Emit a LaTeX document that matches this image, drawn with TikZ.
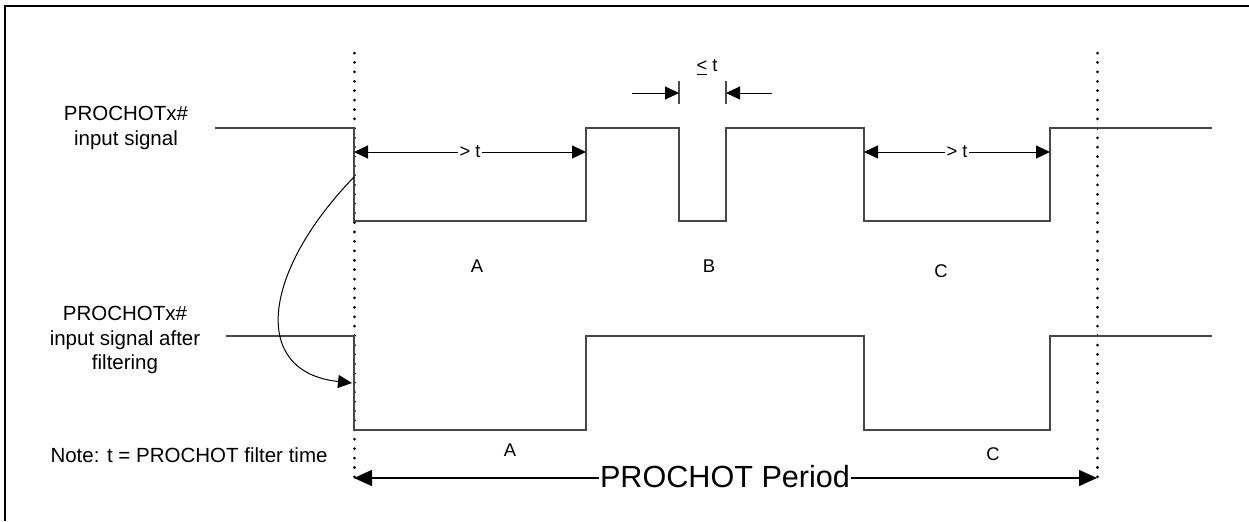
\documentclass[tikz,border=0pt]{standalone}
\usepackage{fontspec}
\setmainfont{Liberation Sans}
\usetikzlibrary{arrows.meta}
\begin{document}
\begin{tikzpicture}[x=0.5pt,y=-0.5pt,
  wave/.style={draw=black!72,line width=0.75pt},
  dotline/.style={line width=1.5pt,line cap=round,dash pattern=on 0.01pt off 4.7pt},
  dim/.style={line width=0.5pt,{Triangle[length=7pt,width=6.5pt]}-{Triangle[length=7pt,width=6.5pt]}},
  onetip/.style={line width=0.5pt,-{Triangle[length=7pt,width=6.5pt]}},
  lbl/.style={font=\fontsize{10.25}{12.2}\selectfont,align=center,inner sep=0pt},
  sml/.style={font=\fontsize{9.2}{11}\selectfont,inner sep=0pt},
  dimtxt/.style={font=\fontsize{9.2}{11}\selectfont,fill=white,inner sep=1pt},
  frame/.style={line width=1.25pt}]
\useasboundingbox (0,0) rectangle (1249,521);
% frame (left and top edges)
\draw[frame] (5,521) -- (5,6) -- (1249,6);
% dotted markers
\coordinate (dl1) at (354,53); \coordinate (dl2) at (354,478);
\coordinate (dr1) at (1097,53); \coordinate (dr2) at (1097,478);
\draw[dotline] (dl1) -- (dl2);
\draw[dotline] (dr1) -- (dr2);
% input signal
\draw[wave] (215,128) -- (354,128) -- (354,221) -- (586,221) -- (586,128) -- (679,128) -- (679,221)
  -- (726,221) -- (726,128) -- (864,128) -- (864,221) -- (1050,221) -- (1050,128) -- (1212,128);
% filtered signal
\draw[wave] (226,336) -- (354,336) -- (354,430) -- (586,430) -- (586,336) -- (864,336) -- (864,430)
  -- (1050,430) -- (1050,336) -- (1212,336);
% > t dimensions
\coordinate (a1) at (354,152); \coordinate (a2) at (586,152);
\coordinate (c1) at (864,152); \coordinate (c2) at (1050,152);
\draw[dim] (a1) -- (a2);
\draw[dim] (c1) -- (c2);
\node[dimtxt] (gtA) at (470,152) {> t};
\node[dimtxt] (gtC) at (957,152) {> t};
% <= t marker
\coordinate (t1a) at (679,81); \coordinate (t1b) at (679,104);
\coordinate (t2a) at (726,81); \coordinate (t2b) at (726,104);
\draw[line width=0.6pt,black!70] (t1a) -- (t1b);
\draw[line width=0.6pt,black!70] (t2a) -- (t2b);
\coordinate (b1) at (632,93); \coordinate (b1e) at (679,93);
\coordinate (b2) at (772,93); \coordinate (b2e) at (726,93);
\draw[onetip] (b1) -- (b1e);
\draw[onetip] (b2) -- (b2e);
\node[sml] (le) at (707,68) {\underline{<} t};
% curved arrow
\coordinate (cs) at (354,177); \coordinate (ce) at (352,383);
\draw[line width=0.5pt,-{Triangle[length=7pt,width=6.5pt]}] (cs) .. controls (262,272) and (250,372) .. (ce);
% labels
\node[lbl] (in1) at (126,128) {PROCHOTx\#\\input signal};
\node[lbl] (in2) at (125,340) {PROCHOTx\#\\input signal after\\filtering};
\node[lbl] (note) at (189,455) {Note: t = PROCHOT filter time};
\node[sml] (lA) at (477,266) {A};
\node[sml] (lB) at (709,266) {B};
\node[sml] (lC) at (941,271) {C};
\node[sml] (lA2) at (510,450) {A};
\node[sml] (lC2) at (993,454) {C};
% period
\draw[line width=0.75pt,{Triangle[length=9pt,width=8pt]}-{Triangle[length=9pt,width=8pt]}] (dl2) -- (dr2);
\node[fill=white,inner sep=0.5pt,font=\fontsize{15.3}{18}\selectfont] (per) at (725,477) {PROCHOT Period};
\end{tikzpicture}
\end{document}
